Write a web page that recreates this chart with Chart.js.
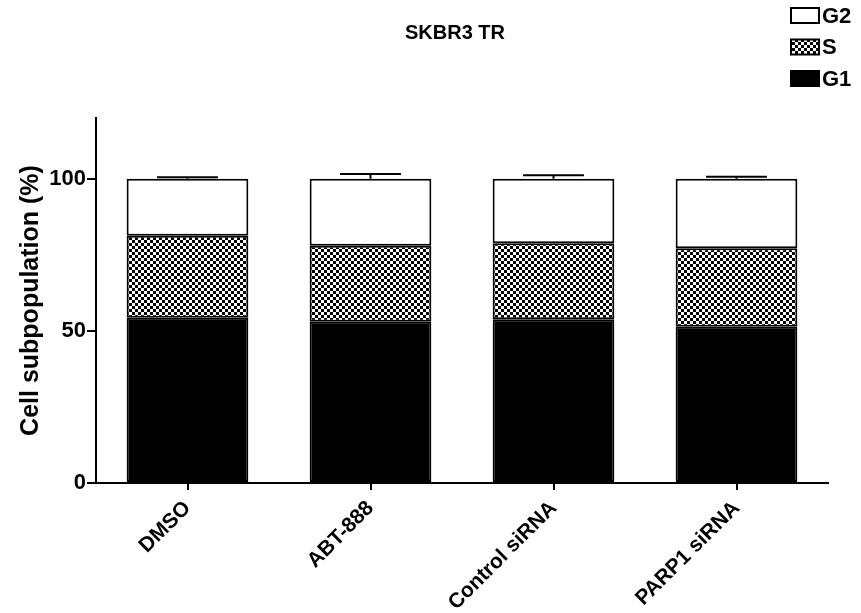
<!DOCTYPE html>
<html>
<head>
<meta charset="utf-8">
<script src="https://cdn.jsdelivr.net/npm/chart.js@4/dist/chart.umd.min.js"></script>
<style>
  html, body { margin: 0; padding: 0; background: #fff; }
  #wrap { width: 861px; height: 613px; position: relative; }
</style>
</head>
<body>
<div id="wrap"><canvas id="c" width="861" height="613"></canvas></div>
<script>
const chartTitle = 'SKBR3 TR';
const categories = ['DMSO', 'ABT-888', 'Control siRNA', 'PARP1 siRNA'];
const g1Values = [54.3, 53.0, 53.8, 51.4];
const sValues = [27.0, 25.0, 25.0, 25.8];
const g2Values = [18.7, 22.0, 21.2, 22.8];
const g2Errors = [0.5, 1.6, 1.2, 0.7];
const yTickValues = [0, 50, 100];
const yAxisTitle = 'Cell subpopulation (%)';
const seriesNames = ['G1', 'S', 'G2'];

const FONT = '"Liberation Sans", Arial, Helvetica, sans-serif';

function makeChecker() {
  const c = document.createElement('canvas');
  c.width = 6; c.height = 6;
  const x = c.getContext('2d');
  x.fillStyle = '#fff'; x.fillRect(0, 0, 6, 6);
  x.fillStyle = '#000';
  x.fillRect(0, 0, 3, 3);
  x.fillRect(3, 3, 3, 3);
  return x.createPattern(c, 'repeat');
}
const ctx = document.getElementById('c').getContext('2d');
const checker = makeChecker();

const errorBarPlugin = {
  id: 'errorBars',
  afterDatasetsDraw(chart) {
    const { ctx, scales: { x, y } } = chart;
    const meta = chart.getDatasetMeta(2);
    ctx.save();
    ctx.strokeStyle = '#000';
    ctx.lineWidth = 2;
    categories.forEach((cat, i) => {
      const total = g1Values[i] + sValues[i] + g2Values[i];
      const px = x.getPixelForValue(i);
      const yTop = y.getPixelForValue(total + g2Errors[i]);
      const yBase = y.getPixelForValue(total);
      const bw = meta.data[i].width;
      const half = bw * 0.25;
      ctx.beginPath();
      ctx.moveTo(px, yBase);
      ctx.lineTo(px, yTop);
      ctx.moveTo(px - half, yTop);
      ctx.lineTo(px + half, yTop);
      ctx.stroke();
    });
    ctx.restore();
  }
};

const titleLegendPlugin = {
  id: 'titleLegend',
  afterDraw(chart) {
    const ctx = chart.ctx;
    ctx.save();
    ctx.fillStyle = '#000';
    ctx.font = 'bold 20px ' + FONT;
    ctx.textAlign = 'center';
    ctx.textBaseline = 'middle';
    ctx.fillText(chartTitle, 455, 33);
    // legend (reverse order: G2, S, G1)
    const items = chart.data.datasets.slice().reverse();
    items.forEach((ds, k) => {
      const by = 8 + k * 31.5;
      ctx.fillStyle = ds.backgroundColor;
      ctx.fillRect(791, by, 28, 15);
      ctx.strokeStyle = '#000';
      ctx.lineWidth = 2;
      ctx.strokeRect(791, by, 28, 15);
      ctx.fillStyle = '#000';
      ctx.font = 'bold 22px ' + FONT;
      ctx.textAlign = 'left';
      ctx.fillText(ds.label, 822, by + 8.5);
    });
    ctx.restore();
  }
};

new Chart(ctx, {
  type: 'bar',
  data: {
    labels: categories,
    datasets: [
      { label: seriesNames[0], data: g1Values, backgroundColor: '#000', borderColor: '#000', borderWidth: 2, borderSkipped: false },
      { label: seriesNames[1], data: sValues, backgroundColor: checker, borderColor: '#000', borderWidth: 2, borderSkipped: false },
      { label: seriesNames[2], data: g2Values, backgroundColor: '#fff', borderColor: '#000', borderWidth: 2, borderSkipped: false }
    ]
  },
  options: {
    responsive: false,
    animation: false,
    events: [],
    layout: { padding: { top: 118, right: 33, left: 0, bottom: 0 } },
    datasets: { bar: { categoryPercentage: 1.0, barPercentage: 0.665 } },
    plugins: { legend: { display: false }, title: { display: false }, tooltip: { enabled: false } },
    scales: {
      x: {
        stacked: true,
        afterFit(s) { s.height = 130; },
        grid: { display: true, drawOnChartArea: false, drawTicks: true, tickLength: 7, offset: false, color: '#000', lineWidth: 2 },
        border: { display: true, color: '#000', width: 2 },
        ticks: { color: '#000', font: { family: FONT, size: 21, weight: 'bold' }, minRotation: 45, maxRotation: 45, padding: 6 }
      },
      y: {
        stacked: true,
        min: 0,
        max: 120,
        afterFit(s) { s.width = 96; },
        afterBuildTicks(s) { s.ticks = yTickValues.map(v => ({ value: v })); },
        grid: { display: true, drawOnChartArea: false, drawTicks: true, tickLength: 9, color: '#000', lineWidth: 2 },
        border: { display: true, color: '#000', width: 2 },
        ticks: { color: '#000', font: { family: FONT, size: 22, weight: 'bold' }, padding: 1 },
        title: { display: true, text: yAxisTitle, color: '#000', font: { family: FONT, size: 25, weight: 'bold' }, padding: { top: 16, bottom: 0 } }
      }
    }
  },
  plugins: [errorBarPlugin, titleLegendPlugin]
});
</script>
</body>
</html>
